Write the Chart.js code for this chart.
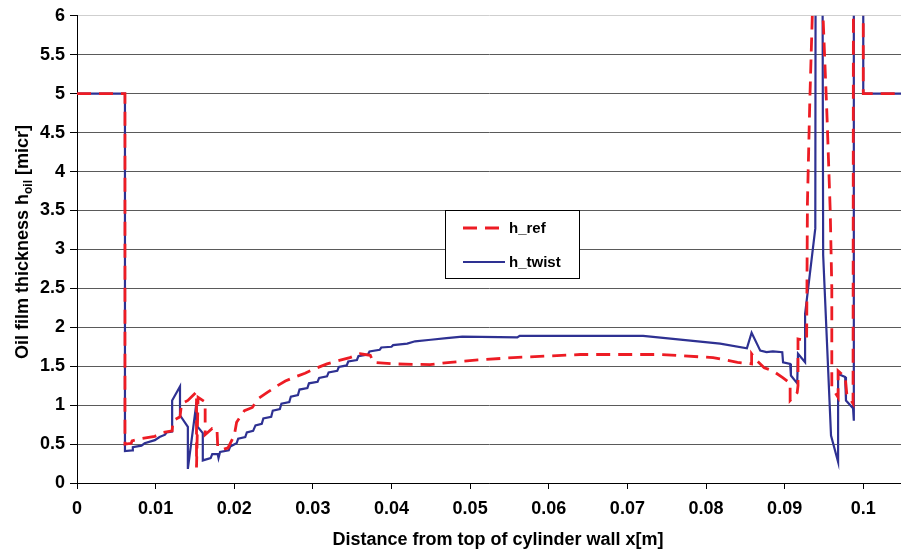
<!DOCTYPE html>
<html>
<head>
<meta charset="utf-8">
<title>Oil film thickness</title>
<script src="https://cdn.jsdelivr.net/npm/chart.js@4.4.0/dist/chart.umd.min.js"></script>
<style>
  html, body { margin: 0; padding: 0; background: #fff; }
  #wrap { width: 901px; height: 555px; position: relative; }
</style>
</head>
<body>
<div id="wrap"><canvas id="chart"></canvas></div>
<script>
// distance from top of cylinder wall [m] / oil film thickness [micr]
const refX = [0, 0.0061, 0.0061, 0.0069, 0.0070, 0.0081, 0.0099, 0.0110, 0.0121, 0.0122,
  0.0131, 0.0133, 0.0141, 0.0152, 0.0152, 0.0154, 0.0163, 0.0163, 0.0172, 0.0178,
  0.0179, 0.0185, 0.0192, 0.0200, 0.0203, 0.0213, 0.0223, 0.0230, 0.0243, 0.0255,
  0.0265, 0.0277, 0.0290, 0.0303, 0.0318, 0.0332, 0.0347, 0.0360, 0.0373, 0.0377,
  0.0402, 0.0449, 0.0475, 0.0510, 0.0555, 0.0640, 0.0742, 0.0809, 0.0840, 0.0858,
  0.0858, 0.0863, 0.0874, 0.0885, 0.0898, 0.0907, 0.0907, 0.0916, 0.0917, 0.0917,
  0.0926, 0.0928, 0.0929, 0.0932, 0.0941, 0.0954, 0.0958, 0.0960, 0.0960, 0.0968,
  0.0968, 0.0977, 0.0979, 0.0987, 0.0988, 0.1000, 0.1000, 0.1050];
const refY = [5, 5, 0.50, 0.51, 0.54, 0.57, 0.60, 0.65, 0.67, 0.80,
  0.85, 1.02, 1.06, 1.17, 0.20, 1.10, 1.04, 0.62, 0.70, 0.70,
  0.46, 0.43, 0.45, 0.61, 0.78, 0.93, 0.97, 1.08, 1.17, 1.25,
  1.31, 1.36, 1.41, 1.47, 1.53, 1.57, 1.61, 1.66, 1.64, 1.55,
  1.53, 1.52, 1.55, 1.58, 1.61, 1.65, 1.65, 1.61, 1.55, 1.53,
  1.66, 1.59, 1.48, 1.44, 1.35, 1.28, 1.06, 1.16, 1.25, 1.85,
  1.83, 1.85, 3.60, 4.90, 8.00, 4.68, 3.49, 2.50, 1.23, 1.10,
  1.44, 1.36, 1.15, 1.02, 12, 12, 5, 5];

const twistX = [0, 0.0061, 0.0061, 0.0070, 0.0071, 0.0082, 0.0086, 0.0099, 0.0105, 0.0112,
  0.0114, 0.0121, 0.0121, 0.0131, 0.0131, 0.0141, 0.0141, 0.0152, 0.0152, 0.0160,
  0.0160, 0.0170, 0.0172, 0.0179, 0.0180, 0.0182, 0.0193, 0.0195, 0.0203, 0.0205,
  0.0214, 0.0216, 0.0224, 0.0227, 0.0235, 0.0237, 0.0247, 0.0249, 0.0258, 0.0260,
  0.0270, 0.0272, 0.0281, 0.0283, 0.0293, 0.0295, 0.0306, 0.0308, 0.0318, 0.0320,
  0.0331, 0.0333, 0.0343, 0.0345, 0.0356, 0.0358, 0.0370, 0.0372, 0.0385, 0.0387,
  0.0400, 0.0402, 0.0420, 0.0430, 0.0450, 0.0470, 0.0490, 0.0560, 0.0563, 0.0720,
  0.0758, 0.0818, 0.0852, 0.0858, 0.0869, 0.0877, 0.0885, 0.0897, 0.0898, 0.0907,
  0.0908, 0.0916, 0.0917, 0.0926, 0.0926, 0.0939, 0.0940, 0.0947, 0.0949, 0.0959,
  0.0968, 0.0968, 0.0977, 0.0978, 0.0987, 0.0988, 0.0988, 0.1000, 0.1000, 0.1050];
const twistY = [5, 5, 0.41, 0.42, 0.46, 0.48, 0.51, 0.55, 0.59, 0.62,
  0.65, 0.66, 1.06, 1.24, 0.87, 0.72, 0.18, 1.04, 0.74, 0.64,
  0.29, 0.32, 0.37, 0.37, 0.32, 0.40, 0.42, 0.47, 0.51, 0.57,
  0.59, 0.65, 0.67, 0.74, 0.76, 0.83, 0.85, 0.93, 0.95, 1.02,
  1.04, 1.11, 1.13, 1.20, 1.22, 1.28, 1.30, 1.35, 1.37, 1.42,
  1.44, 1.49, 1.51, 1.56, 1.58, 1.63, 1.65, 1.69, 1.71, 1.74,
  1.75, 1.77, 1.79, 1.82, 1.84, 1.86, 1.88, 1.87, 1.89, 1.89,
  1.85, 1.79, 1.73, 1.93, 1.70, 1.68, 1.69, 1.68, 1.55, 1.53,
  1.38, 1.28, 1.66, 1.55, 2.17, 3.27, 12, 12, 2.93, 0.61,
  0.27, 1.40, 1.36, 1.06, 0.96, 0.80, 12, 12, 5, 5];

const xTicks = [0, 0.01, 0.02, 0.03, 0.04, 0.05, 0.06, 0.07, 0.08, 0.09, 0.1];
const yTicks = [0, 0.5, 1, 1.5, 2, 2.5, 3, 3.5, 4, 4.5, 5, 5.5, 6];

const xTitle = 'Distance from top of cylinder wall x[m]';
const FONT = '"Liberation Sans", Arial, sans-serif';

const toPoints = (xs, ys) => xs.map((x, i) => ({ x: x, y: ys[i] }));

// axis titles (y title needs the "oil" subscript)
const axisTitles = {
  id: 'axisTitles',
  afterDraw(chart) {
    const ctx = chart.ctx;
    ctx.save();
    ctx.fillStyle = '#000';
    ctx.font = 'bold 18px ' + FONT;
    ctx.textAlign = 'center';
    ctx.textBaseline = 'middle';
    ctx.fillText(xTitle, 498, 540);

    ctx.translate(22, 242);
    ctx.rotate(-Math.PI / 2);
    ctx.textAlign = 'left';
    ctx.textBaseline = 'alphabetic';
    const a = 'Oil film thickness h', s = 'oil', b = ' [micr]';
    ctx.font = 'bold 18px ' + FONT;
    const wa = ctx.measureText(a).width, wb = ctx.measureText(b).width;
    ctx.font = 'bold 12px ' + FONT;
    const ws = ctx.measureText(s).width;
    let x = -(wa + ws + wb) / 2;
    ctx.font = 'bold 18px ' + FONT;
    ctx.fillText(a, x, 6);
    x += wa;
    ctx.font = 'bold 12px ' + FONT;
    ctx.fillText(s, x, 10);
    x += ws;
    ctx.font = 'bold 18px ' + FONT;
    ctx.fillText(b, x, 6);
    ctx.restore();
  }
};

// boxed legend inside the plot
const boxLegend = {
  id: 'boxLegend',
  afterDatasetsDraw(chart) {
    const ctx = chart.ctx;
    ctx.save();
    ctx.fillStyle = '#fff';
    ctx.fillRect(445.5, 210.5, 134, 68);
    ctx.strokeStyle = '#000';
    ctx.lineWidth = 1;
    ctx.strokeRect(445.5, 210.5, 134, 68);
    chart.data.datasets.forEach((ds, i) => {
      const y = 228 + i * 34;
      ctx.beginPath();
      ctx.setLineDash(ds.borderDash || []);
      ctx.strokeStyle = ds.borderColor;
      ctx.lineWidth = ds.borderWidth;
      ctx.moveTo(463, y);
      ctx.lineTo(505, y);
      ctx.stroke();
      ctx.setLineDash([]);
      ctx.fillStyle = '#000';
      ctx.font = 'bold 15px ' + FONT;
      ctx.textAlign = 'left';
      ctx.textBaseline = 'middle';
      ctx.fillText(ds.label, 509, y + 1);
    });
    ctx.restore();
  }
};

const ctx = document.getElementById('chart').getContext('2d');
new Chart(ctx, {
  type: 'line',
  data: {
    datasets: [{
      label: 'h_ref',
      data: toPoints(refX, refY),
      borderColor: 'rgb(237, 28, 36)',
      borderWidth: 2.8,
      borderDash: [14, 8],
      pointRadius: 0,
      tension: 0,
      fill: false
    }, {
      label: 'h_twist',
      data: toPoints(twistX, twistY),
      borderColor: 'rgb(46, 49, 146)',
      borderWidth: 2.2,
      pointRadius: 0,
      tension: 0,
      fill: false
    }]
  },
  options: {
    responsive: true,
    maintainAspectRatio: false,
    animation: false,
    layout: { padding: { left: 0, right: 0, top: 13, bottom: 0 } },
    plugins: {
      legend: { display: false },
      tooltip: { enabled: false }
    },
    scales: {
      x: {
        type: 'linear',
        min: 0,
        max: 0.1048,
        afterBuildTicks: s => { s.ticks = xTicks.map(v => ({ value: v })); },
        afterFit: s => { s.height = 72; },
        grid: { drawOnChartArea: false, tickLength: 6, tickColor: '#000' },
        border: { color: '#000', width: 1 },
        ticks: {
          autoSkip: false,
          maxRotation: 0,
          padding: 9,
          color: '#000',
          font: { family: FONT, size: 18, weight: 'bold' },
          callback: v => String(Math.round(v * 1000) / 1000)
        }
      },
      y: {
        min: 0,
        max: 6,
        afterBuildTicks: s => { s.ticks = yTicks.map(v => ({ value: v })); },
        afterFit: s => { s.width = 77; },
        grid: {
          color: c => (c.tick && c.tick.value === 6) ? '#cfcfcf' : '#5a5a5a',
          lineWidth: 1,
          tickLength: 7,
          tickColor: '#000'
        },
        border: { color: '#000', width: 1 },
        ticks: {
          padding: 5,
          color: '#000',
          font: { family: FONT, size: 18, weight: 'bold' },
          callback: v => String(v)
        }
      }
    }
  },
  plugins: [boxLegend, axisTitles]
});
</script>
</body>
</html>
